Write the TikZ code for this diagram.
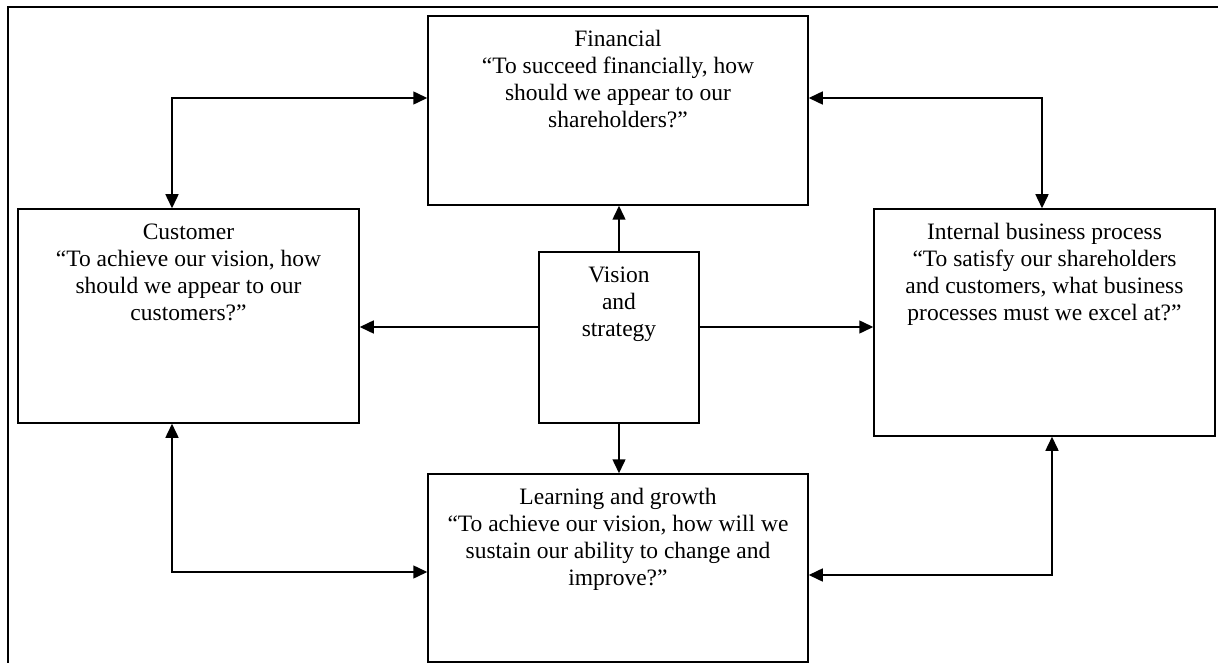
\documentclass[tikz,border=0pt]{standalone}
\usepackage{fontspec}
\setmainfont{Liberation Serif}
\usetikzlibrary{arrows.meta,positioning}

\begin{document}
\begin{tikzpicture}[
  x=1pt, y=-1pt,
  persp/.style={draw=black, line width=1.5pt, minimum width=#1, inner sep=0pt},
  txt/.style={inner sep=0pt, align=center, text=black,
              font=\fontsize{23.5}{27}\selectfont},
  head/.style={label={[txt, anchor=north, label distance=-15pt]north:{#1}}},
  arr/.style={-{Triangle[length=14pt, width=13pt]}, line width=1.5pt},
  biarr/.style={{Triangle[length=14pt, width=13pt]}-{Triangle[length=14pt, width=13pt]}, line width=1.5pt}]

\useasboundingbox (0,0) rectangle (1218,663);
\draw[line width=1.2pt] (8,663) -- (8,7) -- (1218,7);

% the five perspectives
\node[persp=380pt, minimum height=189pt,
      head={Financial\\“To succeed financially, how\\should we appear to our\\shareholders?”}]
      (fin) at (618,110.5) {};
\node[persp=341pt, minimum height=214pt,
      head={Customer\\“To achieve our vision, how\\should we appear to our\\customers?”}]
      (cust) at (188.5,316) {};
\node[persp=341pt, minimum height=227pt,
      head={Internal business process\\“To satisfy our shareholders\\and customers, what business\\processes must we excel at?”}]
      (intl) at (1044.5,322.5) {};
\node[persp=160pt, minimum height=171pt,
      head={Vision\\and\\strategy}]
      (vis) at (619,337.5) {};
\node[persp=380pt, minimum height=188pt,
      head={Learning and growth\\“To achieve our vision, how will we\\sustain our ability to change and\\improve?”}]
      (learn) at (618,568) {};

% elbow points
\coordinate (cf) at (172,98);
\coordinate (fi) at (1042,98);
\coordinate (cl) at (172,572);
\coordinate (il) at (1052,575);
\coordinate (vl) at (0,327);

\draw[biarr] (cust.north -| cf) |- (fin.west |- cf);
\draw[biarr] (fin.east |- fi) -| (intl.north -| fi);
\draw[biarr] (cust.south -| cl) |- (learn.west |- cl);
\draw[biarr] (intl.south -| il) |- (learn.east |- il);

\draw[arr] (vis.north) -- (vis.north |- fin.south);
\draw[arr] (vis.south) -- (vis.south |- learn.north);
\draw[arr] (vis.west |- vl) -- (cust.east |- vl);
\draw[arr] (vis.east |- vl) -- (intl.west |- vl);
\end{tikzpicture}
\end{document}
